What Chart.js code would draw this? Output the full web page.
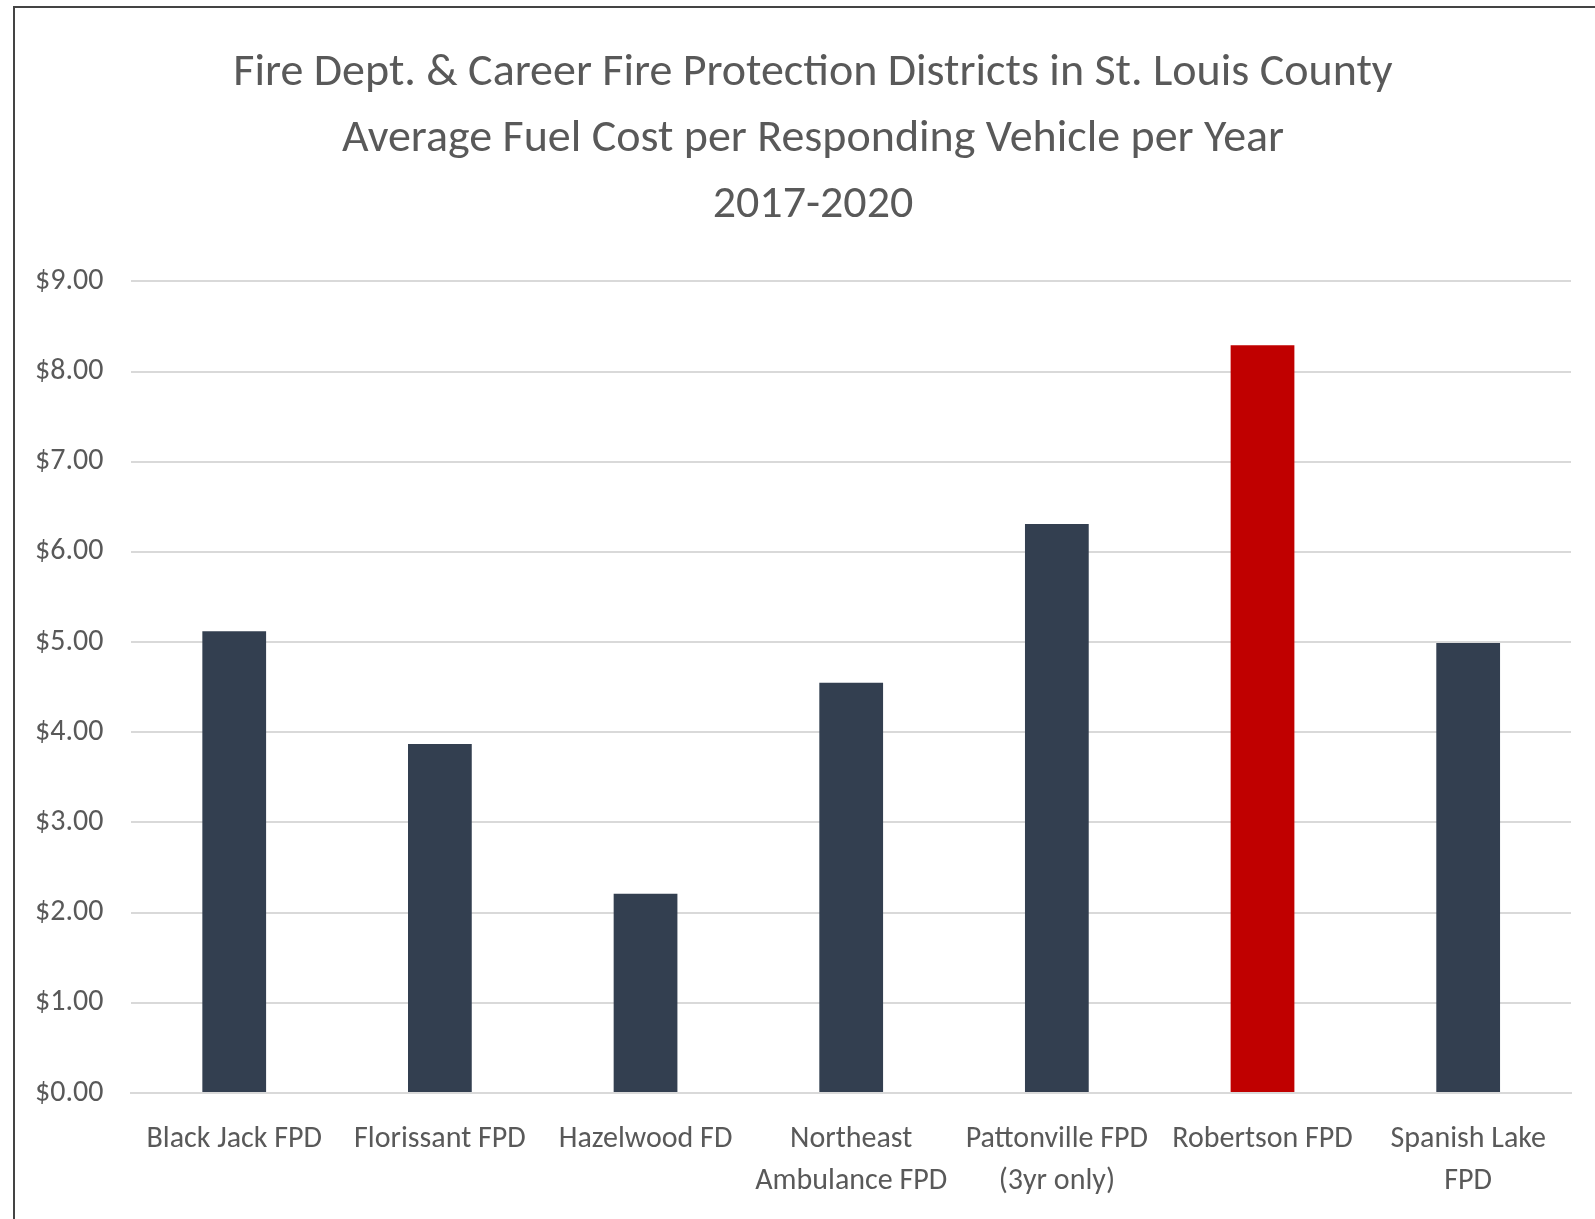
<!DOCTYPE html>
<html>
<head>
<meta charset="utf-8">
<script src="https://cdn.jsdelivr.net/npm/chart.js@4/dist/chart.umd.min.js"></script>
<style>
  html, body { margin: 0; padding: 0; background: #fff; overflow: hidden; }
  #frame {
    position: absolute; left: 13px; top: 6px; width: 1582px; height: 1213px;
    border-top: 2px solid #444; border-left: 2px solid #444; box-sizing: border-box;
  }
  #wrap { position: absolute; left: 0; top: 0; width: 1595px; height: 1219px; }
  canvas { display: block; }
</style>
</head>
<body>
<div id="frame"></div>
<div id="wrap"><canvas id="myChart"></canvas></div>
<script>
var districts = [
  'Black Jack FPD',
  'Florissant FPD',
  'Hazelwood FD',
  ['Northeast', 'Ambulance FPD'],
  ['Pattonville FPD', '(3yr only)'],
  'Robertson FPD',
  ['Spanish Lake', 'FPD']
];
var fuelCost = [5.12, 3.87, 2.21, 4.55, 6.31, 8.29, 4.99];
var barColors = ['#333f50', '#333f50', '#333f50', '#333f50', '#333f50', '#c00000', '#333f50'];
var titleLines = [
  'Fire Dept. & Career Fire Protection Districts in St. Louis County',
  'Average Fuel Cost per Responding Vehicle per Year',
  '2017-2020'
];

var fontFamily = "Carlito, 'Open Sans', sans-serif";
var textColor = '#595959';

// centre the title on the page rather than on the padded box
var titleShift = {
    id: 'titleShift',
    afterLayout: function (chart) {
        var t = chart.titleBlock;
        if (t) { t.left += 24; t.right += 24; }
    }
};

var ctx = document.getElementById('myChart').getContext('2d');
var myChart = new Chart(ctx, {
    type: 'bar',
    data: {
        labels: districts,
        datasets: [{
            data: fuelCost,
            backgroundColor: barColors,
            barPercentage: 0.62,
            categoryPercentage: 0.5
        }]
    },
    plugins: [titleShift],
    options: {
        responsive: true,
        maintainAspectRatio: false,
        animation: false,
        layout: {
            padding: { left: 7, right: 24, top: 41, bottom: -8 }
        },
        plugins: {
            legend: { display: false },
            tooltip: { enabled: false },
            title: {
                display: true,
                text: titleLines,
                color: textColor,
                font: { family: fontFamily, size: 46, lineHeight: 1.43, weight: 'normal' },
                padding: { top: 0, bottom: 43 }
            }
        },
        scales: {
            x: {
                grid: { display: false, drawTicks: false },
                border: { color: '#d9d9d9', width: 2 },
                ticks: {
                    color: textColor,
                    font: { family: fontFamily, size: 30, lineHeight: 1.4 },
                    padding: 25,
                    maxRotation: 0,
                    autoSkip: false
                }
            },
            y: {
                min: 0,
                max: 9,
                grid: { color: '#d9d9d9', lineWidth: 2, drawTicks: false },
                border: { display: false },
                ticks: {
                    stepSize: 1,
                    color: textColor,
                    font: { family: fontFamily, size: 30 },
                    padding: 28,
                    callback: function (v) { return '$' + Number(v).toFixed(2); }
                }
            }
        }
    }
});
</script>
</body>
</html>
